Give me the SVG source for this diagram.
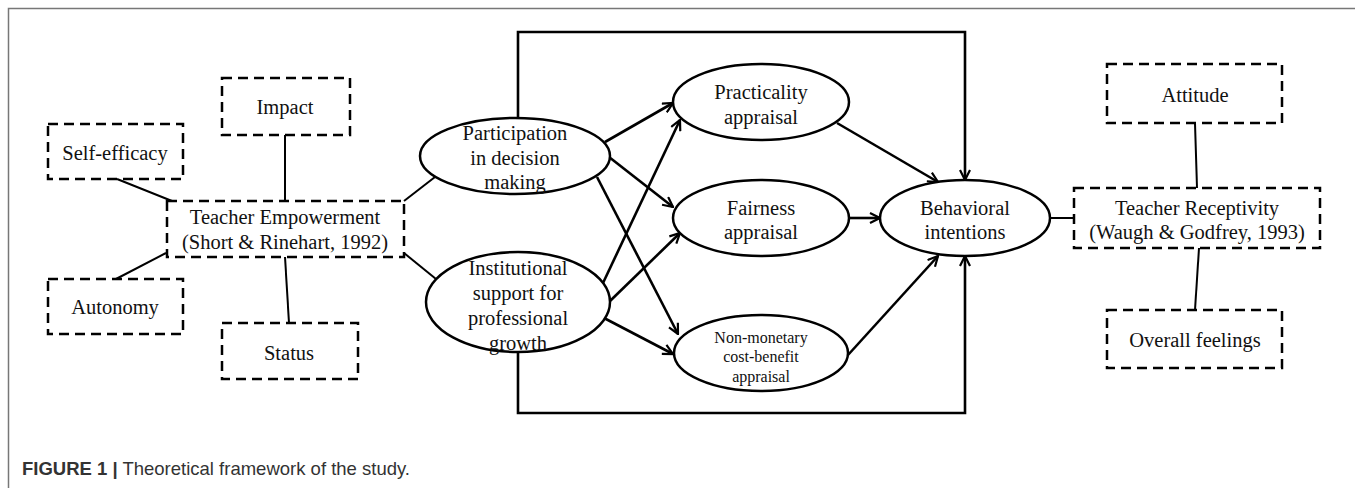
<svg xmlns="http://www.w3.org/2000/svg" width="1355" height="488" viewBox="0 0 1355 488">
<defs>
<marker id="arr" viewBox="0 0 12 12" refX="11" refY="6" markerWidth="12" markerHeight="12" markerUnits="userSpaceOnUse" orient="auto">
<path d="M1,1 L11,6 L1,11" fill="none" stroke="#000" stroke-width="2.2"/>
</marker>
<style>
.box{fill:none;stroke:#000;stroke-width:2.5;stroke-dasharray:10 6}
.ell{fill:#fff;stroke:#000;stroke-width:2.5}
.ln{fill:none;stroke:#000;stroke-width:2}
.ar{fill:none;stroke:#000;stroke-width:2.6;marker-end:url(#arr)}
.t{font-family:"Liberation Serif","Times New Roman",serif;font-size:20.5px;fill:#111;text-anchor:middle}
.ts{font-family:"Liberation Serif","Times New Roman",serif;font-size:16px;fill:#111;text-anchor:middle}
</style>
</defs>
<rect x="0" y="0" width="1355" height="488" fill="#fff"/>
<path d="M8.5,488 L8.5,8.5 L1355,8.5" fill="none" stroke="#777" stroke-width="1.5"/>

<g id="connectors">
<line class="ln" x1="117" y1="179" x2="172" y2="201"/>
<line class="ln" x1="285" y1="135" x2="285" y2="201"/>
<line class="ln" x1="116" y1="279" x2="166" y2="253"/>
<line class="ln" x1="289" y1="323" x2="285" y2="257"/>
<line class="ln" x1="404" y1="201" x2="435" y2="177"/>
<line class="ln" x1="404" y1="253" x2="436" y2="279"/>
<polyline class="ar" points="518,118 518,32 965,32 965,180"/>
<polyline class="ar" points="518,353 518,413 965,413 965,256"/>
<line class="ar" x1="605" y1="142" x2="673" y2="103"/>
<line class="ar" x1="609" y1="157" x2="673" y2="207"/>
<line class="ar" x1="597" y1="177" x2="678" y2="334"/>
<line class="ar" x1="603" y1="283" x2="680" y2="120"/>
<line class="ar" x1="609" y1="302" x2="680" y2="233"/>
<line class="ar" x1="604" y1="318" x2="673" y2="354"/>
<line class="ar" x1="837" y1="123" x2="938" y2="182"/>
<line class="ar" x1="850" y1="218" x2="880" y2="218"/>
<line class="ar" x1="848" y1="355" x2="938" y2="256"/>
<polyline class="ln" points="1049,218 1074,218"/>
<line class="ln" x1="1195" y1="123" x2="1197" y2="188"/>
<line class="ln" x1="1199" y1="248" x2="1195" y2="310"/>
</g>

<g id="impact"><rect class="box" x="222" y="78" width="128" height="57"/><text class="t" x="285" y="114">Impact</text></g>
<g id="self-efficacy"><rect class="box" x="48" y="124" width="135" height="55"/><text class="t" x="115" y="160">Self-efficacy</text></g>
<g id="teacher-empowerment"><rect class="box" x="167" y="201" width="237" height="56"/><text class="t" x="285" y="224">Teacher Empowerment</text><text class="t" x="285" y="249">(Short &amp; Rinehart, 1992)</text></g>
<g id="autonomy"><rect class="box" x="48" y="279" width="135" height="55"/><text class="t" x="115" y="314">Autonomy</text></g>
<g id="status"><rect class="box" x="222" y="323" width="136" height="56"/><text class="t" x="289" y="360">Status</text></g>

<g id="participation"><ellipse class="ell" cx="515" cy="156" rx="95" ry="38"/><text class="t" x="515" y="140">Participation</text><text class="t" x="515" y="165">in decision</text><text class="t" x="515" y="189">making</text></g>
<g id="institutional"><ellipse class="ell" cx="518" cy="302" rx="92" ry="50"/><text class="t" x="518" y="275">Institutional</text><text class="t" x="518" y="300">support for</text><text class="t" x="518" y="325">professional</text><text class="t" x="518" y="350">growth</text></g>
<g id="practicality"><ellipse class="ell" cx="761" cy="102" rx="88" ry="38"/><text class="t" x="761" y="99">Practicality</text><text class="t" x="761" y="124">appraisal</text></g>
<g id="fairness"><ellipse class="ell" cx="761" cy="218" rx="88" ry="38"/><text class="t" x="761" y="215">Fairness</text><text class="t" x="761" y="239">appraisal</text></g>
<g id="non-monetary"><ellipse class="ell" cx="761" cy="353" rx="87" ry="38"/><text class="ts" x="761" y="343">Non-monetary</text><text class="ts" x="761" y="362">cost-benefit</text><text class="ts" x="761" y="382">appraisal</text></g>
<g id="behavioral"><ellipse class="ell" cx="965" cy="218" rx="85" ry="38"/><text class="t" x="965" y="215">Behavioral</text><text class="t" x="965" y="239">intentions</text></g>

<g id="attitude"><rect class="box" x="1107" y="64" width="175" height="59"/><text class="t" x="1195" y="102">Attitude</text></g>
<g id="teacher-receptivity"><rect class="box" x="1074" y="188" width="246" height="60"/><text class="t" x="1197" y="215">Teacher Receptivity</text><text class="t" x="1197" y="239">(Waugh &amp; Godfrey, 1993)</text></g>
<g id="overall-feelings"><rect class="box" x="1107" y="310" width="175" height="58"/><text class="t" x="1195" y="347">Overall feelings</text></g>

<text x="22" y="475" font-family="'Liberation Sans',Arial,sans-serif" font-size="18.5" fill="#333"><tspan font-weight="bold">FIGURE 1 |</tspan> Theoretical framework of the study.</text>
</svg>
